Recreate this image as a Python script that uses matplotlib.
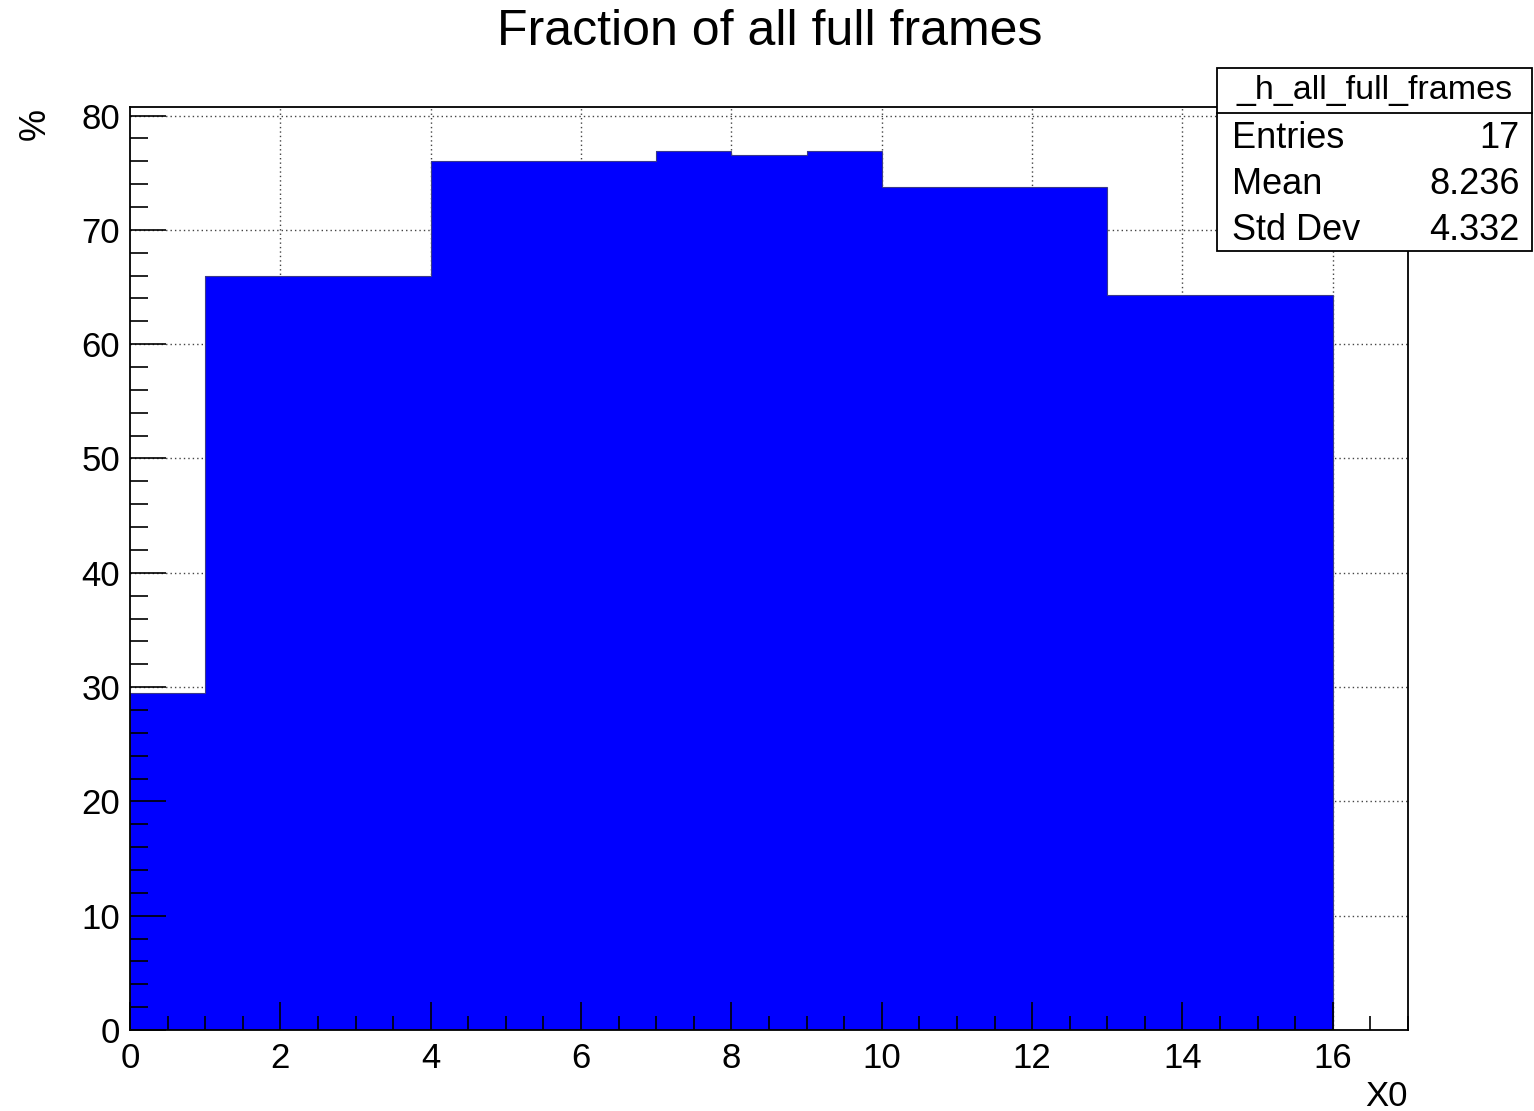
import matplotlib
matplotlib.use("Agg")
import matplotlib.pyplot as plt
from matplotlib.patches import Rectangle
from matplotlib.ticker import MultipleLocator

plt.rcParams['font.family'] = ['Liberation Sans', 'DejaVu Sans']

# Histogram contents (percent) for bins of width 1 from 0 to 16
bin_edges = [0, 1, 2, 3, 4, 5, 6, 7, 8, 9, 10, 11, 12, 13, 14, 15, 16]
bin_values = [29.46, 66.0, 66.0, 66.0, 76.0, 76.0, 76.0, 76.9, 76.58, 76.9,
              73.73, 73.73, 73.73, 64.3, 64.3, 64.3]

title = "Fraction of all full frames"
hist_name = "_h_all_full_frames"
stat_labels = ["Entries", "Mean", "Std Dev"]
stat_values = ["17", "8.236", "4.332"]

W, H = 1534, 1111
fig = plt.figure(figsize=(W / 100, H / 100), dpi=100)
left, right, top, bottom = 130, 1408, 107, 1030
ax = fig.add_axes([left / W, 1 - bottom / H, (right - left) / W, (bottom - top) / H])

ax.set_xlim(0, 17)
ax.set_ylim(0, 80.75)

# Dotted grid behind the filled histogram
grid_style = dict(linestyle=(0, (1, 2.2)), color="#444444", linewidth=1.0, zorder=0.5)
for gx in range(2, 17, 2):
    ax.axvline(gx, **grid_style)
for gy in range(10, 81, 10):
    ax.axhline(gy, **grid_style)

ax.stairs(bin_values, bin_edges, fill=True, color="#0000ff", zorder=1)
ax.stairs(bin_values, bin_edges, fill=False, color="#3a3a8a", linewidth=0.8, zorder=1.5)

ax.xaxis.set_major_locator(MultipleLocator(2))
ax.xaxis.set_minor_locator(MultipleLocator(0.5))
ax.yaxis.set_major_locator(MultipleLocator(10))
ax.yaxis.set_minor_locator(MultipleLocator(2))

ax.tick_params(axis="x", which="major", direction="in", length=20, width=1.2,
               labelsize=25, pad=9, top=False)
ax.tick_params(axis="x", which="minor", direction="in", length=10, width=1.2, top=False)
ax.tick_params(axis="y", which="major", direction="in", length=26, width=1.2,
               labelsize=25, pad=7, right=False)
ax.tick_params(axis="y", which="minor", direction="in", length=13, width=1.2, right=False)
ax.set_axisbelow(False)
for s in ax.spines.values():
    s.set_linewidth(1.3)
    s.set_zorder(5)

fig.text(770 / W, 1 - 32 / H, title, ha="center", va="center", fontsize=36)
fig.text(1408 / W, 1 - 1096 / H, "X0", ha="right", va="center", fontsize=25)
fig.text(35 / W, 1 - 124 / H, "%", ha="center", va="center", rotation=90, fontsize=26)

# Statistics box
bx0, bx1, by0, by1, hy = 1217, 1532, 68, 251, 113
fig.patches.append(Rectangle((bx0 / W, 1 - by1 / H), (bx1 - bx0) / W, (by1 - by0) / H,
                             transform=fig.transFigure, facecolor="white",
                             edgecolor="black", linewidth=1.3, zorder=10))
fig.add_artist(plt.Line2D([bx0 / W, bx1 / W], [1 - hy / H, 1 - hy / H],
                          transform=fig.transFigure, color="black", linewidth=1.3, zorder=11))
fig.text((bx0 + bx1) / 2 / W, 1 - 90 / H, hist_name, ha="center", va="center",
         fontsize=24.5, zorder=12)
rows_y = [138, 185, 231]
for lab, val, yy in zip(stat_labels, stat_values, rows_y):
    fig.text(1232 / W, 1 - yy / H, lab, ha="left", va="center", fontsize=26, zorder=12)
    fig.text(1520 / W, 1 - yy / H, val, ha="right", va="center", fontsize=26, zorder=12)

fig.savefig("out.png", dpi=100, facecolor="white")
